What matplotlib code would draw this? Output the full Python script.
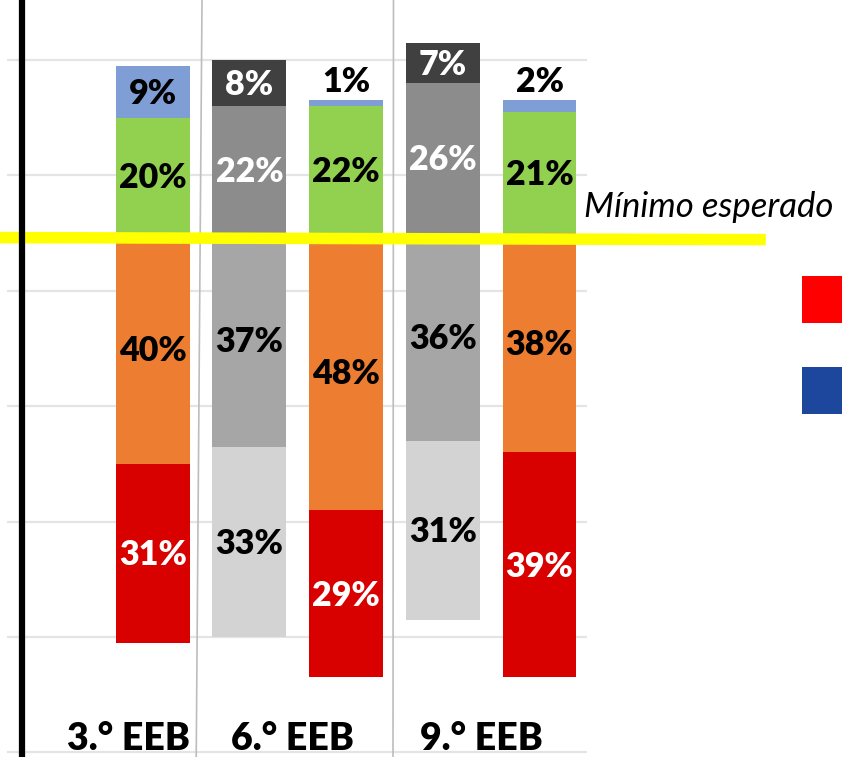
import matplotlib
matplotlib.use("Agg")
import matplotlib.pyplot as plt
from matplotlib.patches import Rectangle

# ---- data ----
groups = ["3.° EEB", "6.° EEB", "9.° EEB"]
bar_slots = [1, 2, 3, 4, 5]
bar_kind = ["color", "grey", "color", "grey", "color"]
level_low = [31, 33, 29, 31, 39]      # bottom segment
level_mid = [40, 37, 48, 36, 38]      # just below the expected minimum
level_high = [20, 22, 22, 26, 21]     # just above the expected minimum
level_top = [9, 8, 1, 7, 2]           # top segment
threshold_label = "Mínimo esperado"

# ---- styles ----
palette = {
    "color": ["#D90000", "#ED7D31", "#92D050", "#7F9ED6"],
    "grey": ["#D3D3D3", "#A6A6A6", "#8C8C8C", "#404040"],
}
text_col = {
    "color": ["white", "black", "black", "black"],
    "grey": ["black", "black", "white", "white"],
}
FONT = "Lato"

fig = plt.figure(figsize=(8.42, 7.57), dpi=100)
ax = fig.add_axes([0, 0, 1, 1])
ax.set_xlim(-0.579, 8.128)
ax.set_ylim(-90.8, 40.4)
ax.axis("off")

# gridlines
for gy in [30, 10, -10, -30, -50, -70, -90]:
    ax.plot([-0.507, 5.49], [gy, gy], color="#E4E4E4", lw=1.6, zorder=0,
            solid_capstyle="butt")

# group separators
ax.plot([1.51, 1.45], [40.4, -90.8], color="#BDBDBD", lw=1.2, zorder=1)
ax.plot([3.49, 3.485], [40.4, -90.8], color="#BDBDBD", lw=1.2, zorder=1)

# black vertical line
ax.plot([-0.35, -0.35], [40.4, -90.8], color="black", lw=4.5, zorder=5,
        solid_capstyle="butt")

width = 0.765
digit_half = 2.1
for i, slot in enumerate(bar_slots):
    kind = bar_kind[i]
    vals = [level_low[i], level_mid[i], level_high[i], level_top[i]]
    bottoms = [-(level_low[i] + level_mid[i]), -level_mid[i], 0, level_high[i]]
    for j in range(4):
        ax.bar(slot, vals[j], width=width, bottom=bottoms[j],
               color=palette[kind][j], zorder=2, linewidth=0)
        if j == 3 and vals[j] < 4:
            cy = bottoms[j] + vals[j] + 3.6
            col = "black"
        else:
            cy = bottoms[j] + vals[j] / 2
            col = text_col[kind][j]
        ax.text(slot, cy - digit_half, f"{vals[j]}%", ha="center", va="baseline",
                fontsize=24.5, fontweight="heavy", color=col, family=FONT, zorder=6)

# yellow expected-minimum line
ax.plot([-0.579, 7.34], [-0.78, -1.13], color="#FFFF00", lw=8.3, zorder=4,
        solid_capstyle="butt")
ax.text(5.46, 2.77, threshold_label, ha="left", va="baseline", fontsize=25,
        style="italic", color="black", family=FONT, zorder=6)

# group labels
for lab, gx in zip(groups, [0.75, 2.45, 4.395]):
    ax.text(gx, -89.6, lab, ha="center", va="baseline", fontsize=27,
            fontweight="heavy", color="black", family=FONT, zorder=6)

# legend-like squares (cut off at right)
ax.add_patch(Rectangle((7.715, -7.45), 0.6, -8.15, color="#FF0000", zorder=3, lw=0))
ax.add_patch(Rectangle((7.715, -23.2), 0.6, -8.15, color="#1C479C", zorder=3, lw=0))

fig.savefig("out.png", dpi=100)
